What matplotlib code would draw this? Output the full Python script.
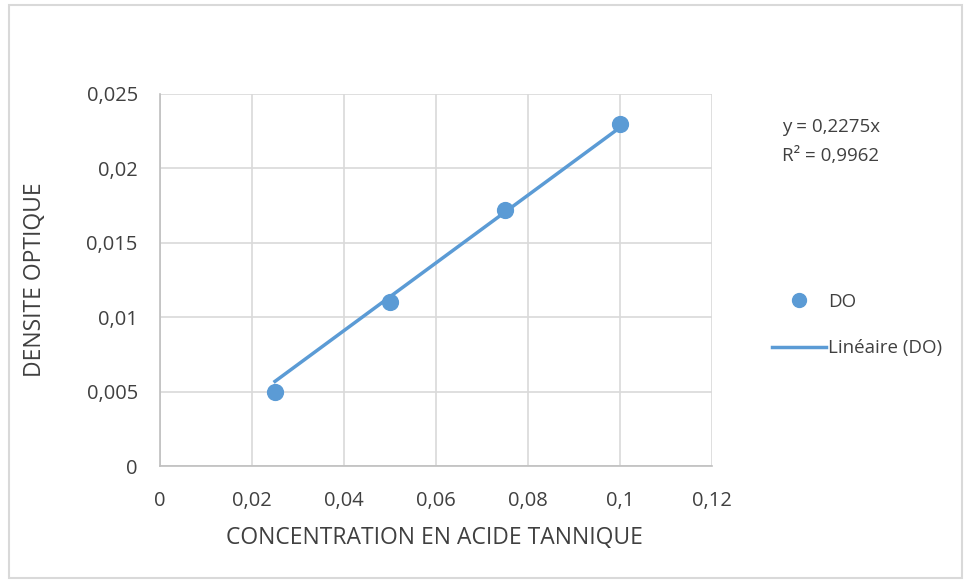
import matplotlib.pyplot as plt
from matplotlib.patches import Rectangle
from matplotlib.lines import Line2D

concentration = [0.025, 0.05, 0.075, 0.1]
densite = [0.005, 0.011, 0.0172, 0.023]
pente = 0.2275
r2 = 0.9962
xticks = [0, 0.02, 0.04, 0.06, 0.08, 0.1, 0.12]
yticks = [0, 0.005, 0.01, 0.015, 0.02, 0.025]

bleu = "#5B9BD5"
gris_txt = "#404040"
plt.rcParams['font.family'] = ['Open Sans', 'DejaVu Sans']

def virgule(v):
    s = ("%g" % v).replace(".", ",")
    return s

fig = plt.figure(figsize=(9.65, 5.81), dpi=100)
fig.patches.append(Rectangle((9/965, 3/581), 953/965, 573/581, transform=fig.transFigure,
                             fill=False, edgecolor="#D9D9D9", linewidth=1.5))
ax = fig.add_axes([160/965, 1-466/581, 552/965, 372/581])

ax.scatter(concentration, densite, s=130, color=bleu, zorder=3)
xs = [concentration[0], concentration[-1]]
ax.plot(xs, [pente*x for x in xs], color=bleu, linewidth=2.5, zorder=2)

ax.set_xlim(0, 0.12)
ax.set_ylim(0, 0.025)
ax.set_xticks(xticks)
ax.set_yticks(yticks)
ax.set_xticklabels([virgule(v) for v in xticks])
ax.set_yticklabels([virgule(v) for v in yticks])
ax.tick_params(length=0, labelsize=14.5, colors=gris_txt)
ax.tick_params(axis="y", pad=16)
ax.tick_params(axis="x", pad=18)
ax.grid(True, color="#D9D9D9", linewidth=1.2)
ax.set_axisbelow(True)
for s in ["top", "right"]:
    ax.spines[s].set_visible(False)
for s in ["left", "bottom"]:
    ax.spines[s].set_color("#BFBFBF")
    ax.spines[s].set_linewidth(1.2)

ax.set_xlabel("CONCENTRATION EN ACIDE TANNIQUE", fontsize=16.5, color=gris_txt, va="center")
ax.set_ylabel("DENSITE OPTIQUE", fontsize=16.5, color=gris_txt, va="center")
ax.xaxis.set_label_coords(0.498, (466-538)/372)
ax.yaxis.set_label_coords((35-160)/552, 0.5)

fig.text(782/965, 1-127/581, "y = %s" % str(pente).replace(".", ",") + "x",
         fontsize=13.5, color=gris_txt, va="center")
fig.text(782/965, 1-156/581, "R² = %s" % str(r2).replace(".", ","),
         fontsize=13.5, color=gris_txt, va="center")

handles = [Line2D([], [], marker="o", linestyle="none", color=bleu, markersize=10),
           Line2D([], [], color=bleu, linewidth=2.5)]
fig.legend(handles, ["DO", "Linéaire (DO)"], loc="center left",
           bbox_to_anchor=(755/965, 1-325/581), frameon=False, fontsize=13.5,
           labelcolor=gris_txt, handlelength=2.9, handletextpad=0.1, labelspacing=1.5)

fig.savefig("out.png", dpi=100)
